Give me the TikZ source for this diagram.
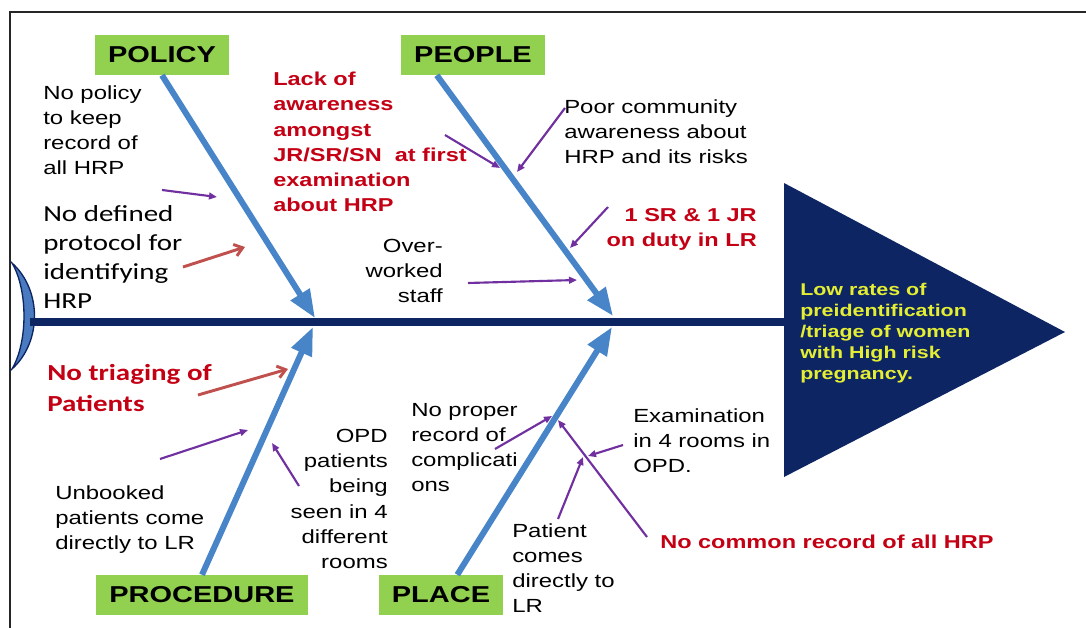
\documentclass[tikz,border=0pt]{standalone}
\usepackage{fontspec}
\setmainfont{Liberation Sans}[FakeStretch=1.26]
\newfontfamily\calfont{Carlito}[FakeStretch=1.26]
\usetikzlibrary{arrows.meta,calc,positioning}
\definecolor{spineblue}{RGB}{14,37,99}
\definecolor{boneblue}{RGB}{72,132,200}
\definecolor{tailblue}{RGB}{74,122,192}
\definecolor{causegreen}{RGB}{146,208,80}
\definecolor{tickpurple}{RGB}{112,48,160}
\definecolor{tickred}{RGB}{192,80,77}
\definecolor{notered}{RGB}{196,0,20}
\definecolor{effectyellow}{RGB}{228,238,50}
\tikzset{
cause/.style={fill=causegreen, font=\bfseries\fontsize{17.25}{20}\selectfont, inner xsep=10pt, inner ysep=0pt, minimum height=30pt},
note/.style={inner sep=0pt, align=left, font=\fontsize{14.25}{18.9}\selectfont},
noter/.style={note, align=right},
rednote/.style={inner sep=0pt, align=left, text=notered, font=\bfseries\fontsize{14}{18.9}\selectfont},
calnote/.style={inner sep=0pt, align=left, font=\calfont\fontsize{17.25}{21.75}\selectfont},
bone/.style={draw=boneblue, line width=4.5pt, -{Triangle[length=21pt,width=16pt]}},
tick/.style={draw=tickpurple, line width=1.6pt, -{Triangle[length=6pt,width=5pt]}},
redtick/.style={draw=tickred, line width=2.2pt, -{Straight Barb[length=6pt,width=9pt]}},
}

\begin{document}
\begin{tikzpicture}[x=0.75pt,y=0.75pt,yscale=-1,xscale=1]
\useasboundingbox (0,0) rectangle (1086,628);
%Frame
\draw[line width=1.5pt, black!85] (10,628) -- (10,12) -- (1086,12);
%Tail
\filldraw[fill=tailblue, draw=spineblue, line width=1pt] (12,263) .. controls (42,290) and (42,342) .. (12,369) .. controls (28,342) and (28,290) .. (12,263) -- cycle;
%Head
\fill[spineblue] (784,183) -- (1065,332) -- (784,477) -- cycle;
\coordinate (tail) at (30,322);
\coordinate (head) at (786,322);
\draw[spineblue, line width=6pt] (tail) -- (head);
%Causes
\node[cause] (policy) at (162,55) {POLICY};
\node[cause] (people) at (473,55) {PEOPLE};
\node[cause] (procedure) at (202,595) {PROCEDURE};
\node[cause] (place) at (441,595) {PLACE};
\coordinate (policytip) at (315,318);
\coordinate (peopletip) at (613,316);
\coordinate (proceduretip) at (313,327);
\coordinate (placetip) at (612,327);
\draw[bone] (policy.south) -- (policytip);
\draw[bone] ($(people.south west)!0.25!(people.south east)$) -- (peopletip);
\draw[bone] (procedure.north) -- (proceduretip);
\draw[bone] ($(place.north west)!0.63!(place.north east)$) -- (placetip);
%Sub causes
\node[note, anchor=north west] (policytxt) at (43,85) {No policy\\to keep\\record of\\all HRP};
\node[calnote, anchor=north west] (protocoltxt) at (43,205) {No defined\\protocol for\\identifying\\HRP};
\node[rednote, anchor=north west] (lacktxt) at (273,72) {Lack of\\awareness\\amongst\\JR/SR/SN\ \ at first\\examination\\about HRP};
\node[note, anchor=north west] (poortxt) at (564,99) {Poor community\\awareness about\\HRP and its risks};
\node[rednote, align=right, anchor=north east] (dutytxt) at (757,208) {1 SR \& 1 JR\\on duty in LR};
\node[noter, anchor=north east] (overtxt) at (443,239) {Over-\\worked\\staff};
\node[calnote, text=notered, font=\calfont\bfseries\fontsize{17.25}{23.25}\selectfont, anchor=north west] (triagetxt) at (47,364) {No triaging of\\Patients};
\node[note, anchor=north west] (unbookedtxt) at (55,485) {Unbooked\\patients come\\directly to LR};
\node[noter, anchor=north east] (opdtxt) at (388,429) {OPD\\patients\\being\\seen in 4\\different\\rooms};
\node[note, anchor=north west] (propertxt) at (411,403) {No proper\\record of\\complicati\\ons};
\node[note, anchor=north west] (examtxt) at (633,408) {Examination\\in 4 rooms in\\OPD.};
\node[note, anchor=north west] (patienttxt) at (512,523) {Patient\\comes\\directly to\\LR};
\node[rednote, anchor=north west] (commontxt) at (660,535) {No common record of all HRP};
\node[inner sep=0pt, align=left, text=effectyellow, font=\bfseries\fontsize{12.75}{15.75}\selectfont, anchor=north west] (effecttxt) at (800,283) {Low rates of\\preidentification\\/triage of women\\with High risk\\pregnancy.};
%Small arrows
\coordinate (policyfrom) at (162,190);  \coordinate (policyto) at (217,197);
\coordinate (protocolfrom) at (183,267); \coordinate (protocolto) at (245,247);
\coordinate (lackfrom) at (445,135);    \coordinate (lackto) at (500,168);
\coordinate (poorfrom) at (565,108);    \coordinate (poorto) at (517,172);
\coordinate (dutyfrom) at (608,207);    \coordinate (dutyto) at (570,248);
\coordinate (overfrom) at (468,283);    \coordinate (overto) at (577,280);
\coordinate (triagefrom) at (198,395);  \coordinate (triageto) at (288,369);
\coordinate (unbookedfrom) at (160,459); \coordinate (unbookedto) at (248,430);
\coordinate (opdfrom) at (299,486);     \coordinate (opdto) at (272,443);
\coordinate (properfrom) at (495,449);  \coordinate (properto) at (552,416);
\coordinate (commonfrom) at (647,537);  \coordinate (commonto) at (558,420);
\coordinate (examfrom) at (623,445);    \coordinate (examto) at (588,456);
\coordinate (patientfrom) at (558,519); \coordinate (patientto) at (583,457);
\draw[tick] (policyfrom) -- (policyto);
\draw[redtick] (protocolfrom) -- (protocolto);
\draw[tick] (lackfrom) -- (lackto);
\draw[tick] (poorfrom) -- (poorto);
\draw[tick] (dutyfrom) -- (dutyto);
\draw[tick] (overfrom) -- (overto);
\draw[redtick] (triagefrom) -- (triageto);
\draw[tick] (unbookedfrom) -- (unbookedto);
\draw[tick] (opdfrom) -- (opdto);
\draw[tick] (properfrom) -- (properto);
\draw[tick] (commonfrom) -- (commonto);
\draw[tick] (examfrom) -- (examto);
\draw[tick] (patientfrom) -- (patientto);
\end{tikzpicture}
\end{document}
